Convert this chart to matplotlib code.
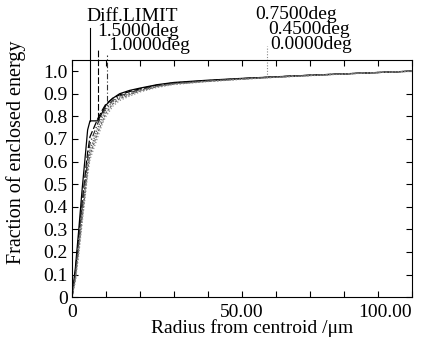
import numpy as np
import matplotlib.pyplot as plt

plt.rcParams['font.family'] = ['Liberation Serif', 'DejaVu Serif']

# radius from centroid (um)
radius = [0, 1, 2, 3, 4, 4.6, 5.3, 7.6, 9, 10, 12, 14, 17, 20, 25, 30, 40, 50, 60, 70, 80, 90, 100]

# fraction of enclosed energy for each field
diff_limit = [0, 0.13, 0.30, 0.48, 0.64, 0.74, 0.78, 0.78, 0.82, 0.85, 0.88, 0.90, 0.915, 0.925, 0.94, 0.95, 0.96, 0.968, 0.975, 0.982, 0.988, 0.994, 1.0]
f_150 = [0, 0.11, 0.27, 0.42, 0.56, 0.64, 0.71, 0.79, 0.83, 0.855, 0.88, 0.895, 0.91, 0.922, 0.938, 0.948, 0.958, 0.967, 0.975, 0.982, 0.988, 0.994, 1.0]
f_100 = [0, 0.10, 0.25, 0.40, 0.53, 0.61, 0.68, 0.77, 0.81, 0.84, 0.87, 0.89, 0.905, 0.918, 0.935, 0.946, 0.957, 0.966, 0.974, 0.981, 0.988, 0.994, 1.0]
f_075 = [0, 0.09, 0.23, 0.37, 0.50, 0.58, 0.65, 0.75, 0.80, 0.83, 0.865, 0.885, 0.90, 0.915, 0.933, 0.945, 0.956, 0.966, 0.974, 0.981, 0.988, 0.994, 1.0]
f_045 = [0, 0.08, 0.21, 0.35, 0.48, 0.56, 0.63, 0.73, 0.78, 0.815, 0.855, 0.878, 0.896, 0.912, 0.931, 0.943, 0.955, 0.965, 0.973, 0.981, 0.988, 0.994, 1.0]
f_000 = [0, 0.07, 0.19, 0.33, 0.46, 0.54, 0.61, 0.71, 0.77, 0.80, 0.845, 0.87, 0.89, 0.908, 0.928, 0.941, 0.954, 0.964, 0.973, 0.98, 0.987, 0.994, 1.0]

labels = ['Diff.LIMIT', '1.5000deg', '1.0000deg', '0.7500deg', '0.4500deg', '0.0000deg']
series = [diff_limit, f_150, f_100, f_075, f_045, f_000]
styles = ['-', (0, (6, 2)), (0, (5, 2, 1, 2)), (0, (1, 1)), (0, (2, 1)), (0, (1, 1.5))]
colors = ['black', 'black', '#333333', '#555555', '#666666', '#888888']

# label text anchors (x, y) and leader lines (x, y_bottom, y_top, series index)
label_pos = [(4.1, 1.242), (7.35, 1.176), (10.6, 1.112), (53.8, 1.25), (57.6, 1.184), (58.2, 1.118)]
leaders = [(5.3, 0.78, 1.19, 0), (7.6, 0.79, 1.10, 1), (10.4, 0.87, 1.07, 2), (57.5, 0.975, 1.11, 5)]

fig = plt.figure(figsize=(4.3, 3.5), dpi=100)
ax = fig.add_axes([0.1674, 0.151, 0.7907, 0.678])

for y, ls, c in zip(series, styles, colors):
    ax.plot(radius, y, linestyle=ls, color=c, lw=0.9)

for x, y0, y1, i in leaders:
    ax.plot([x, x], [y0, y1], linestyle=styles[i], color=colors[i], lw=0.8, clip_on=False)

for (x, y), t in zip(label_pos, labels):
    ax.text(x, y, t, fontsize=14, ha='left', va='center')

ax.set_xlim(0, 100)
ax.set_ylim(0, 1.05)
ax.set_xticks(np.arange(0, 101, 10))
ax.set_xticklabels(['0', '', '', '', '', '50.00', '', '', '', '', '100.00'])
ax.set_yticks(np.arange(0, 1.01, 0.1))
ax.set_yticklabels(['0'] + [f'{v:.1f}' for v in np.arange(0.1, 1.01, 0.1)])
ax.tick_params(direction='in', top=True, right=True, length=4, width=0.8, labelsize=14)
ax.tick_params(axis='x', pad=5)
ax.tick_params(axis='y', pad=3)
ax.get_xticklabels()[-1].set_horizontalalignment('right')
for s in ax.spines.values():
    s.set_linewidth(0.8)

ax.set_xlabel('Radius from centroid /\u03bcm', fontsize=14)
ax.set_ylabel('Fraction of enclosed energy', fontsize=14.5)
ax.xaxis.set_label_coords(0.53, -0.13)
ax.yaxis.set_label_coords(-0.165, 0.61)
ax.xaxis.label.set_va('center')
ax.yaxis.label.set_va('center')

fig.savefig('out.png', dpi=100)
